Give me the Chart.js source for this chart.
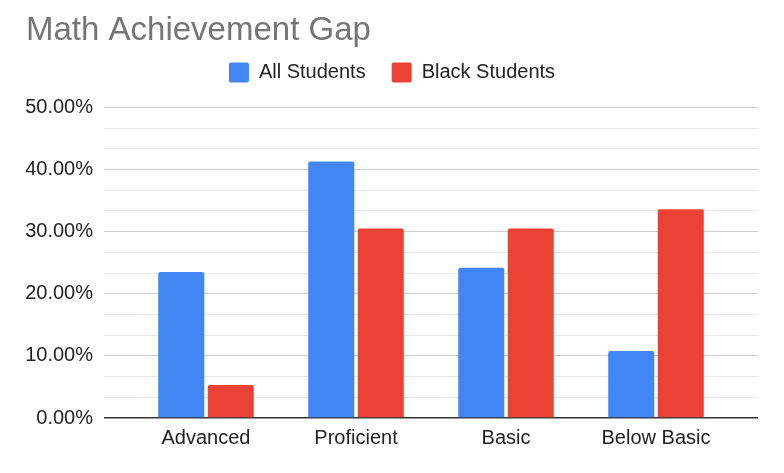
<!DOCTYPE html>
<html>
<head>
<meta charset="utf-8">
<script src="https://cdn.jsdelivr.net/npm/chart.js@4"></script>
<style>
  html, body { margin: 0; padding: 0; background: #fff; }
  #wrap { width: 784px; height: 473px; }
</style>
</head>
<body>
<div id="wrap"><canvas id="chart"></canvas></div>
<script>
// data
const categories = ["Advanced", "Proficient", "Basic", "Below Basic"];
const allStudents = [23.5, 41.3, 24.2, 10.8];
const blackStudents = [5.3, 30.5, 30.5, 33.6];
const yMajorTicks = [0, 10, 20, 30, 40, 50];

const fontFamily = "'Liberation Sans', Arial, sans-serif";

// garis bantu: tiap kelipatan 10% dibagi tiga
const yGridValues = [];
for (let i = 0; i < yMajorTicks.length - 1; i++) {
  const a = yMajorTicks[i], b = yMajorTicks[i + 1];
  yGridValues.push(a, a + (b - a) / 3, a + 2 * (b - a) / 3);
}
yGridValues.push(yMajorTicks[yMajorTicks.length - 1]);

function toPoints(values) {
  return values.map((v, i) => ({ x: i, y: v }));
}

// beri jarak antara legenda dan area grafik
const legendGap = {
  id: "legendGap",
  beforeInit(chart) {
    const fitAsli = chart.legend.fit;
    chart.legend.fit = function () {
      fitAsli.bind(chart.legend)();
      this.height += 15;
    };
  }
};

const ctx = document.getElementById("chart").getContext("2d");
new Chart(ctx, {
  type: "bar",
  data: {
    datasets: [
      {
        label: "All Students",
        data: toPoints(allStudents),
        backgroundColor: "#4285F4",
        borderRadius: 2,
        categoryPercentage: 0.66,
        barPercentage: 0.93
      },
      {
        label: "Black Students",
        data: toPoints(blackStudents),
        backgroundColor: "#EA4335",
        borderRadius: 2,
        categoryPercentage: 0.66,
        barPercentage: 0.93
      }
    ]
  },
  plugins: [legendGap],
  options: {
    responsive: true,
    maintainAspectRatio: false,
    animation: false,
    layout: { padding: { top: 0, left: 26, right: 26, bottom: 23 } },
    scales: {
      x: {
        type: "linear",
        offset: false,
        min: -0.68,
        max: 3.68,
        afterBuildTicks: function (scale) {
          scale.ticks = categories.map((c, i) => ({ value: i }));
        },
        ticks: {
          autoSkip: false,
          maxRotation: 0,
          padding: 0,
          color: "#222",
          font: { family: fontFamily, size: 20 },
          callback: function (value) {
            return categories[value];
          }
        },
        grid: { display: false },
        border: { display: false }
      },
      y: {
        min: 0,
        max: 50,
        afterBuildTicks: function (scale) {
          scale.ticks = yGridValues.map(v => ({ value: v }));
        },
        afterFit: function (scale) {
          scale.width = 78;
        },
        ticks: {
          autoSkip: false,
          padding: 11,
          color: "#222",
          font: { family: fontFamily, size: 20 },
          callback: function (value, index) {
            return index % 3 === 0 ? value.toFixed(2) + "%" : "";
          }
        },
        grid: {
          drawTicks: false,
          color: function (c) {
            if (c.index === 0) return "#333";
            return c.index % 3 === 0 ? "#cccccc" : "#e6e6e6";
          },
          lineWidth: function (c) {
            return c.index === 0 ? 1.5 : 1;
          }
        },
        border: { display: false }
      }
    },
    plugins: {
      title: {
        display: true,
        text: "Math Achievement Gap",
        align: "start",
        color: "#757575",
        font: { family: fontFamily, size: 33, weight: "normal" },
        padding: { top: 11.6, bottom: -14.7 }
      },
      legend: {
        position: "top",
        labels: {
          boxWidth: 20,
          boxHeight: 20,
          padding: 26,
          useBorderRadius: true,
          borderRadius: 2,
          color: "#222",
          font: { family: fontFamily, size: 20 }
        }
      },
      tooltip: { enabled: false }
    }
  }
});
</script>
</body>
</html>
